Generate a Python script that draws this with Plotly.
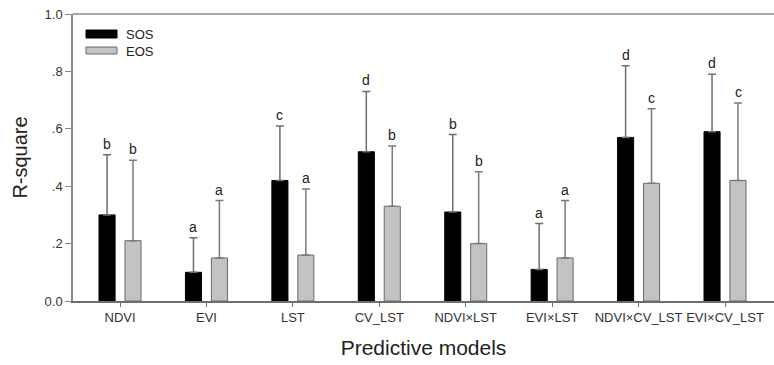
import plotly.graph_objects as go

# Predictive models and their R-square values (mean and upper error) per phenology metric
models = ["NDVI", "EVI", "LST", "CV_LST", "NDVI×LST", "EVI×LST", "NDVI×CV_LST", "EVI×CV_LST"]

sos_r2 = [0.30, 0.10, 0.42, 0.52, 0.31, 0.11, 0.57, 0.59]
sos_top = [0.51, 0.22, 0.61, 0.73, 0.58, 0.27, 0.82, 0.79]
sos_letters = ["b", "a", "c", "d", "b", "a", "d", "d"]

eos_r2 = [0.21, 0.15, 0.16, 0.33, 0.20, 0.15, 0.41, 0.42]
eos_top = [0.49, 0.35, 0.39, 0.54, 0.45, 0.35, 0.67, 0.69]
eos_letters = ["b", "a", "a", "b", "b", "a", "c", "c"]

y_ticks = [0.0, 0.2, 0.4, 0.6, 0.8, 1.0]
y_ticklabels = ["0.0", ".2", ".4", ".6", ".8", "1.0"]

FONT = "Liberation Sans, Arial, sans-serif"

sos_err = [t - v for t, v in zip(sos_top, sos_r2)]
eos_err = [t - v for t, v in zip(eos_top, eos_r2)]

fig = go.Figure()
fig.add_trace(go.Bar(
    name="SOS", x=models, y=sos_r2,
    marker=dict(color="#000000", line=dict(color="#000000", width=1)),
    error_y=dict(type="data", array=sos_err, arrayminus=[0] * len(models),
                 symmetric=False, color="#6e6e6e", thickness=1.5, width=4),
))
fig.add_trace(go.Bar(
    name="EOS", x=models, y=eos_r2,
    marker=dict(color="#c3c3c3", line=dict(color="#6a6a6a", width=1)),
    error_y=dict(type="data", array=eos_err, arrayminus=[0] * len(models),
                 symmetric=False, color="#7a7a7a", thickness=1.5, width=4),
))

# significance letters above each error bar
annotations = []
for m, top, lab in zip(models, sos_top, sos_letters):
    annotations.append(dict(x=m, y=top, text=lab, showarrow=False, xshift=-13,
                            yanchor="bottom", yshift=1,
                            font=dict(family=FONT, size=14, color="#222")))
for m, top, lab in zip(models, eos_top, eos_letters):
    annotations.append(dict(x=m, y=top, text=lab, showarrow=False, xshift=13,
                            yanchor="bottom", yshift=1,
                            font=dict(family=FONT, size=14, color="#222")))

# legend drawn as wide swatches
W, H = 774, 365
ml, mr, mt, mb = 73, 0, 14, 64
pw, ph = W - ml - mr, H - mt - mb


def px(x):
    return (x - ml) / pw


def py(y):
    return 1 - (y - mt) / ph


shapes = [
    dict(type="rect", xref="paper", yref="paper", x0=px(86), x1=px(117), y0=py(38), y1=py(30),
         fillcolor="#000000", line=dict(color="#000000", width=1)),
    dict(type="rect", xref="paper", yref="paper", x0=px(86), x1=px(117), y0=py(54), y1=py(47),
         fillcolor="#c3c3c3", line=dict(color="#6a6a6a", width=1)),
    dict(type="line", xref="paper", yref="paper", x0=0, x1=1, y0=1, y1=1,
         line=dict(color="#a8a8a8", width=2)),
]
for label, yc in (("SOS", 34), ("EOS", 51)):
    annotations.append(dict(xref="paper", yref="paper", x=px(124), y=py(yc), text=label,
                            showarrow=False, xanchor="left", yanchor="middle",
                            font=dict(family=FONT, size=13, color="#222")))

fig.update_layout(
    width=W, height=H,
    margin=dict(l=ml, r=mr, t=mt, b=mb),
    paper_bgcolor="white", plot_bgcolor="white",
    barmode="group", bargap=0.4, bargroupgap=0.38,
    showlegend=False,
    font=dict(family=FONT, color="#222"),
    annotations=annotations, shapes=shapes,
    xaxis=dict(
        range=[-0.544, 7.567],
        showline=True, linecolor="#6e6e6e", linewidth=1.5,
        ticks="outside", ticklen=4, tickcolor="#6e6e6e",
        tickfont=dict(family=FONT, size=13, color="#333"),
        showgrid=False, zeroline=False,
        title=dict(text="Predictive models", font=dict(family=FONT, size=21, color="#222"),
                   standoff=16),
    ),
    yaxis=dict(
        range=[0, 1.0],
        tickvals=y_ticks, ticktext=y_ticklabels,
        showline=True, linecolor="#8a8a8a", linewidth=1.5,
        ticks="outside", ticklen=6, tickcolor="#8a8a8a",
        tickfont=dict(family=FONT, size=13, color="#333"),
        showgrid=False, zeroline=False,
        title=dict(text="R-square", font=dict(family=FONT, size=20, color="#222"),
                   standoff=12),
    ),
)

fig.write_html("out.html")
